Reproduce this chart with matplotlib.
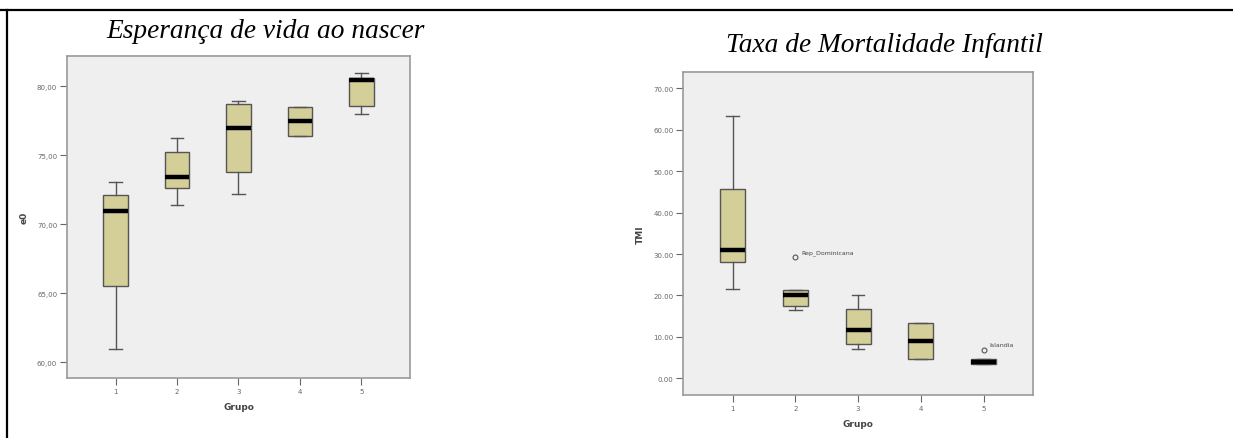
import matplotlib
matplotlib.use("Agg")
import matplotlib.pyplot as plt
from matplotlib.lines import Line2D

# Esperança de vida ao nascer (e0) por grupo
grupos = [1, 2, 3, 4, 5]
e0_whislo = [60.96, 71.40, 72.20, 76.40, 77.97]
e0_q1 = [65.55, 72.65, 73.77, 76.40, 78.55]
e0_med = [71.00, 73.45, 76.96, 77.46, 80.48]
e0_q3 = [72.12, 75.22, 78.72, 78.52, 80.60]
e0_whishi = [73.04, 76.23, 78.93, 78.52, 80.99]
e0_ticks = [60, 65, 70, 75, 80]

# Taxa de mortalidade infantil (TMI) por grupo
tmi_whislo = [21.55, 16.56, 7.10, 4.80, 3.45]
tmi_q1 = [28.10, 17.50, 8.30, 4.80, 3.45]
tmi_med = [31.00, 20.10, 11.65, 9.10, 4.00]
tmi_q3 = [45.70, 21.40, 16.70, 13.30, 4.80]
tmi_whishi = [63.20, 21.40, 20.10, 13.30, 4.80]
tmi_outliers = {2: (29.2, "Rep_Dominicana"), 5: (6.9, "Islandia")}
tmi_ticks = [0, 10, 20, 30, 40, 50, 60, 70]

FILL = "#d4ce98"
EDGE = "#555555"
BG = "#efefef"
SPINE = "#9a9a9a"


def make_stats(lo, q1, med, q3, hi, outliers=None):
    stats = []
    for i, g in enumerate(grupos):
        fl = []
        if outliers and g in outliers:
            fl = [outliers[g][0]]
        stats.append(dict(whislo=lo[i], q1=q1[i], med=med[i], q3=q3[i],
                          whishi=hi[i], fliers=fl, label=str(g)))
    return stats


def draw_box(ax, stats, ticks, fmt, ylim, ylabel):
    ax.bxp(stats, positions=grupos, widths=0.4, patch_artist=True,
           boxprops=dict(facecolor=FILL, edgecolor=EDGE, linewidth=1.0),
           medianprops=dict(color="black", linewidth=3.2, solid_capstyle="butt"),
           whiskerprops=dict(color=EDGE, linewidth=1.0),
           capprops=dict(color=EDGE, linewidth=1.0),
           capwidths=0.2,
           flierprops=dict(marker="o", markersize=3.5, markerfacecolor="none",
                           markeredgecolor=EDGE, markeredgewidth=0.8))
    ax.set_facecolor(BG)
    ax.set_xlim(0.21, 5.79)
    ax.set_ylim(*ylim)
    ax.set_yticks(ticks)
    ax.set_yticklabels([fmt(t) for t in ticks])
    ax.set_xticks(grupos)
    ax.set_xticklabels([str(g) for g in grupos])
    for s in ax.spines.values():
        s.set_color(SPINE)
        s.set_linewidth(1.2)
    ax.tick_params(axis="both", colors="#666666", labelsize=5, length=5,
                   width=0.8, pad=2)
    ax.set_xlabel("Grupo", fontsize=6.5, fontweight="bold", color="#444444",
                  labelpad=6)
    ax.set_ylabel(ylabel, fontsize=6.5, fontweight="bold", color="#444444",
                  labelpad=6)


fig = plt.figure(figsize=(12.33, 4.39), dpi=100)
fig.patch.set_facecolor("white")

ax1 = fig.add_axes([0.0543, 0.1367, 0.2782, 0.7335])
draw_box(ax1, make_stats(e0_whislo, e0_q1, e0_med, e0_q3, e0_whishi),
         e0_ticks, lambda t: f"{t:.2f}".replace(".", ","), (58.86, 82.2), "e0")

ax2 = fig.add_axes([0.554, 0.098, 0.2839, 0.7365])
draw_box(ax2, make_stats(tmi_whislo, tmi_q1, tmi_med, tmi_q3, tmi_whishi,
                         tmi_outliers),
         tmi_ticks, lambda t: f"{t:.2f}", (-4.0, 74.0), "TMI")
for g, (v, name) in tmi_outliers.items():
    ax2.annotate(name, (g, v), xytext=(4, 3), textcoords="offset points",
                 fontsize=4.5, color="#444444")

title_font = dict(family="Liberation Serif", style="italic", fontsize=19.7)
fig.text(266 / 1233, 1 - 32 / 439, "Esperança de vida ao nascer",
         ha="center", va="center", **title_font)
fig.text(884 / 1233, 1 - 46 / 439, "Taxa de Mortalidade Infantil",
         ha="center", va="center", **title_font)

# table cell borders (top and left)
fig.add_artist(Line2D([0, 1], [1 - 11 / 439] * 2, color="black", linewidth=1.6))
fig.add_artist(Line2D([7 / 1233] * 2, [0, 1 - 11 / 439], color="black",
                      linewidth=1.6))

fig.savefig("out.png", dpi=100)
